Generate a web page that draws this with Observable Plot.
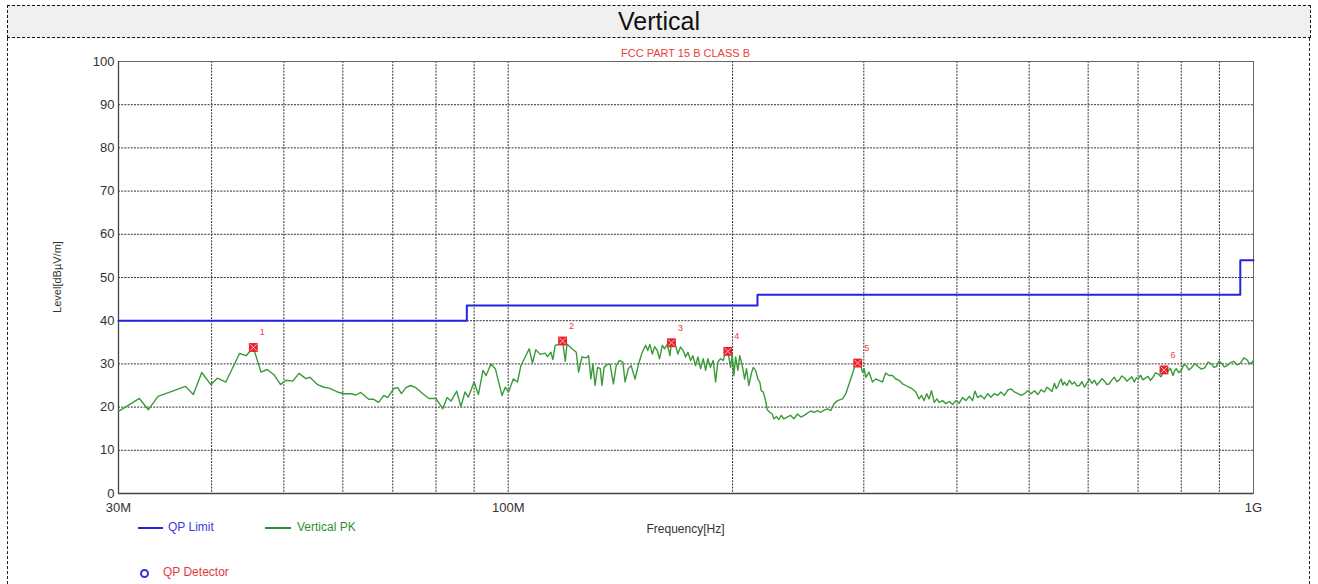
<!DOCTYPE html>
<html>
<head>
<meta charset="utf-8">
<script src="https://cdn.jsdelivr.net/npm/d3@7"></script>
<script src="https://cdn.jsdelivr.net/npm/@observablehq/plot@0.6"></script>
<style>
  html, body { margin: 0; padding: 0; background: #fff; }
  body { width: 1318px; height: 584px; position: relative; overflow: hidden; font-family: "Liberation Sans", Arial, sans-serif; }
  #chart { position: absolute; left: 0; top: 0; }
  .abs { position: absolute; white-space: nowrap; }
</style>
</head>
<body>
<div id="chart"></div>
<div class="abs" style="left:7px;top:5px;width:1302px;height:31px;border:1.5px dashed #111;background:#f0f0f0;text-align:center;font-size:25px;line-height:31px;color:#111;">Vertical</div>
<div class="abs" style="left:7px;top:38px;height:546px;border-left:1.5px dashed #222;"></div>
<div class="abs" style="left:1309px;top:38px;height:546px;border-left:1.5px dashed #222;"></div>
<div class="abs" style="left:0;width:1371px;top:47px;text-align:center;font-size:11px;color:#e8403a;">FCC PART 15 B CLASS B</div>
<div class="abs" style="left:0;width:1371px;top:522px;text-align:center;font-size:12px;color:#333;">Frequency[Hz]</div>
<div class="abs" style="left:57px;top:277px;transform:translate(-50%,-50%) rotate(-90deg);font-size:11px;color:#333;">Level[dBµV/m]</div>
<div class="abs" style="left:138px;top:527px;width:25px;height:0;border-top:2px solid #2424e0;"></div>
<div class="abs" style="left:168px;top:520px;font-size:12px;color:#3a3ae0;">QP Limit</div>
<div class="abs" style="left:265px;top:527px;width:26px;height:0;border-top:2px solid #2f8f2f;"></div>
<div class="abs" style="left:297px;top:520px;font-size:12px;color:#2f8f2f;">Vertical PK</div>
<div class="abs" style="left:140px;top:569px;width:5px;height:5px;border:2px solid #3030e0;border-radius:50%;"></div>
<div class="abs" style="left:163px;top:565px;font-size:12px;color:#e23a3a;">QP Detector</div>
<script>
// ---- data ----
const yTicks = [0, 10, 20, 30, 40, 50, 60, 70, 80, 90, 100];
const yGrid = [10, 20, 30, 40, 50, 60, 70, 80, 90];
const xGrid = [40, 50, 60, 70, 80, 90, 100, 200, 300, 400, 500, 600, 700, 800, 900];
const xTickValues = [30, 100, 1000];
const xTickLabels = ["30M", "100M", "1G"];

const limitFreq = [30, 88, 216, 960, 1000];
const limitLevel = [40, 43.5, 46, 54, 54];

const markerFreq = [45.5, 118.3, 165.6, 197.1, 294.4, 758.4];
const markerLevel = [33.8, 35.3, 34.9, 32.9, 30.2, 28.6];
const markerNames = ["1", "2", "3", "4", "5", "6"];

const pkFreq = [
  30.0, 32.0, 32.9, 33.9, 35.6, 36.9, 37.8, 38.8, 39.9, 40.7, 41.8, 43.6, 44.5, 45.5, 46.6, 47.5, 48.5, 49.5,
  50.3, 51.4, 52.4, 53.5, 54.2, 55.5, 56.6, 57.5, 59.0, 60.2, 61.5, 62.5, 63.4, 65.0, 66.0, 67.0, 68.1, 68.9,
  70.2, 71.1, 71.9, 72.9, 74.0, 75.2, 76.8, 78.3, 80.0, 81.7, 82.8, 83.8, 85.3, 86.4, 87.5, 88.4, 90.0, 91.2,
  92.5, 93.4, 94.8, 96.1, 98.1, 99.1, 100.1, 101.6, 102.9, 104.0, 105.4, 106.7, 107.8, 108.9, 110.4, 112.1,
  112.9, 114.1, 114.8, 115.6, 116.8, 118.3, 119.3, 119.9, 121.8, 123.4, 124.3, 125.6, 127.3, 128.2, 129.1,
  129.9, 130.8, 131.8, 132.9, 133.6, 134.5, 135.9, 137.0, 138.4, 139.6, 141.0, 142.5, 143.5, 144.9, 146.2,
  148.0, 149.6, 151.3, 152.9, 153.9, 154.9, 156.1, 157.2, 158.5, 159.6, 161.0, 162.1, 163.5, 164.8, 165.6,
  167.7, 168.9, 170.3, 171.7, 173.0, 174.2, 175.7, 176.9, 178.4, 179.7, 181.2, 182.7, 184.0, 185.3, 186.8,
  188.4, 189.8, 191.1, 192.7, 194.3, 195.7, 197.1, 198.8, 199.8, 200.8, 201.9, 203.3, 204.5, 206.1, 207.6,
  208.8, 210.3, 211.9, 213.2, 214.7, 216.3, 217.6, 218.5, 219.9, 221.5, 222.6, 224.4, 226.1, 227.2, 229.1,
  230.7, 232.5, 234.3, 236.8, 239.2, 241.7, 244.4, 247.0, 249.5, 252.1, 254.7, 257.3, 260.0, 262.7, 265.4,
  268.2, 270.9, 273.7, 276.6, 280.9, 283.8, 286.7, 289.7, 291.8, 294.4, 297.2, 298.8, 300.3, 301.9, 304.9,
  308.1, 311.3, 314.5, 317.9, 319.4, 321.1, 324.4, 327.8, 331.2, 334.6, 338.1, 341.6, 345.1, 348.7, 352.3,
  355.9, 358.6, 361.4, 364.4, 367.0, 369.8, 372.9, 376.0, 378.7, 382.7, 386.7, 390.6, 394.7, 398.8, 402.8,
  407.1, 411.3, 415.5, 419.8, 422.9, 426.4, 430.8, 435.2, 439.8, 444.3, 448.8, 453.6, 458.2, 463.3, 468.2,
  473.0, 477.8, 482.9, 487.8, 492.8, 498.0, 503.1, 508.2, 513.7, 518.6, 524.2, 528.0, 532.3, 536.5, 540.7,
  543.6, 546.4, 549.2, 552.0, 554.8, 557.6, 562.0, 566.4, 570.8, 575.2, 579.6, 584.1, 588.6, 593.2, 597.8,
  602.4, 607.1, 611.8, 616.5, 621.3, 626.1, 631.0, 635.8, 640.6, 645.6, 650.6, 655.6, 660.7, 665.8, 671.0,
  676.2, 681.4, 686.7, 692.0, 696.3, 700.6, 705.4, 710.2, 716.0, 721.8, 727.4, 733.0, 738.7, 744.4, 751.4,
  758.4, 763.1, 767.8, 773.7, 779.7, 783.7, 787.7, 793.8, 800.0, 806.2, 812.5, 819.0, 825.5, 834.0, 842.7,
  851.3, 860.0, 869.0, 878.0, 884.8, 891.7, 898.6, 905.6, 913.7, 921.9, 931.3, 940.9, 950.7, 960.6, 970.6,
  980.7, 988.3, 996.0, 1000.0
];
const pkLevel = [
  19.0, 22.0, 19.4, 22.5, 23.8, 24.8, 22.9, 28.0, 25.2, 26.7, 25.8, 32.4, 31.9, 33.8, 28.1, 28.7, 27.5, 25.2,
  26.2, 26.0, 27.8, 26.6, 26.9, 25.2, 24.6, 24.4, 23.5, 23.1, 23.1, 22.8, 23.4, 21.8, 21.8, 21.1, 22.7, 22.2,
  24.3, 24.5, 23.1, 24.5, 25.0, 24.5, 23.1, 22.0, 22.0, 19.6, 22.2, 21.4, 23.7, 20.1, 23.5, 22.3, 25.8, 22.9,
  28.5, 27.3, 30.0, 28.9, 22.7, 24.6, 23.5, 26.5, 25.8, 29.6, 31.6, 33.5, 30.2, 33.3, 32.2, 32.5,
  31.7, 32.7, 31.0, 34.3, 34.5, 35.3, 30.6, 34.6, 33.5, 32.7, 28.1, 31.6, 31.4, 31.9, 26.5,
  30.0, 25.0, 29.2, 28.9, 25.0, 29.2, 29.9, 29.9, 25.4, 29.6, 30.8, 30.4, 25.8, 28.9, 29.6,
  26.5, 30.0, 32.7, 34.3, 33.1, 34.5, 32.3, 34.0, 33.1, 31.2, 34.3, 33.5, 34.6, 31.9, 34.9,
  34.3, 32.3, 33.9, 33.1, 31.6, 32.7, 30.8, 31.9, 29.6, 31.6, 28.9, 31.2, 28.5, 31.2, 29.2,
  30.8, 25.8, 30.4, 31.2, 30.8, 32.7, 32.9, 29.2, 32.3, 27.3, 31.6, 28.5, 31.9, 29.6, 26.5,
  28.9, 25.0, 27.7, 29.2, 28.5, 26.5, 25.8, 23.8, 23.5, 21.5, 19.4, 18.8, 18.4, 17.3, 17.8,
  17.1, 18.1, 17.3, 17.7, 18.1, 17.3, 18.4, 17.7, 18.1, 18.6, 19.1, 18.8, 19.2, 18.8, 19.3,
  19.6, 19.2, 20.8, 21.5, 21.9, 23.1, 25.4, 27.7, 29.6, 30.2, 29.6, 28.1, 28.9, 26.9, 28.1,
  25.8, 26.5, 26.2, 25.8, 26.9, 27.9, 27.3, 27.3, 26.5, 26.2, 25.4, 25.0, 24.6, 24.2, 23.5,
  21.9, 22.7, 21.5, 23.1, 21.9, 23.8, 21.1, 21.9, 21.1, 21.5, 20.8, 21.3, 20.6, 21.5, 20.9,
  22.2, 21.5, 22.5, 21.5, 23.7, 22.2, 22.7, 21.9, 23.1, 22.3, 23.1, 22.7, 23.5, 22.7, 24.0,
  24.2, 23.5, 23.1, 22.7, 23.1, 23.8, 23.1, 23.8, 22.9, 24.0, 23.5, 24.6, 24.2, 23.6, 25.5,
  24.3, 24.8, 25.9, 26.5, 25.1, 25.8, 25.0, 26.2, 25.3, 25.8, 24.9, 25.0, 25.9, 24.6, 25.6,
  26.5, 25.5, 26.2, 25.1, 25.8, 26.6, 26.0, 25.2, 25.4, 26.3, 26.9, 25.9, 26.3, 27.2, 26.8,
  26.0, 26.5, 27.0, 25.8, 26.8, 26.5, 27.4, 26.3, 26.7, 27.1, 26.2, 26.9, 27.9, 27.7, 27.0,
  28.6, 27.9, 28.3, 29.0, 27.3, 28.4, 28.9, 28.0, 28.5, 29.8, 29.6, 28.6, 29.1, 30.1, 29.4,
  28.8, 29.1, 30.4, 30.0, 29.2, 29.4, 30.6, 30.2, 29.3, 29.6, 30.3, 30.6, 29.8, 30.2, 31.4,
  30.9, 30.0, 30.4, 30.8
];

// ---- tables for the library ----
const pk = pkFreq.map((f, i) => ({ f, v: pkLevel[i] }));
const limit = limitFreq.map((f, i) => ({ f, v: limitLevel[i] }));
const markers = markerFreq.map((f, i) => ({ f, v: markerLevel[i], name: markerNames[i] }));

const chart = Plot.plot({
  width: 1318,
  height: 584,
  marginTop: 61,
  marginBottom: 91,
  marginLeft: 118,
  marginRight: 65,
  style: { fontFamily: "Liberation Sans, Arial, sans-serif", background: "transparent", overflow: "visible" },
  x: { type: "log", domain: [30, 1000] },
  y: { domain: [0, 100] },
  marks: [
    Plot.ruleY(yGrid, { stroke: "#333", strokeWidth: 1, strokeDasharray: "2,1.2" }),
    Plot.ruleX(xGrid, { stroke: "#333", strokeWidth: 1, strokeDasharray: "2,1.2" }),
    Plot.frame({ stroke: "#666", strokeWidth: 1 }),
    Plot.ruleX([30], { stroke: "#444", strokeWidth: 1.3 }),
    Plot.ruleY([0], { stroke: "#444", strokeWidth: 1.3 }),
    Plot.axisY({ ticks: yTicks, tickSize: 0, tickPadding: 4, fontSize: 13, color: "#333", label: null }),
    Plot.axisX({ ticks: xTickValues, tickFormat: (d) => xTickLabels[xTickValues.indexOf(d)], tickSize: 0, tickPadding: 9, fontSize: 13, color: "#333", label: null }),
    Plot.line(limit, { x: "f", y: "v", curve: "step-after", stroke: "#2424e0", strokeWidth: 2 }),
    Plot.line(pk, { x: "f", y: "v", stroke: "#3a9a3a", strokeWidth: 1.4 }),
    Plot.dot(markers, { x: "f", y: "v", symbol: "square", r: 5, fill: "#e8222a" }),
    Plot.dot(markers, { x: "f", y: "v", symbol: "times", r: 3, stroke: "#ffbcbc", strokeWidth: 1 }),
    Plot.text(markers, { x: "f", y: "v", text: "name", dx: 9, dy: -15, fontSize: 9, fill: "#e84040" })
  ]
});
document.getElementById("chart").appendChild(chart);
</script>
</body>
</html>
